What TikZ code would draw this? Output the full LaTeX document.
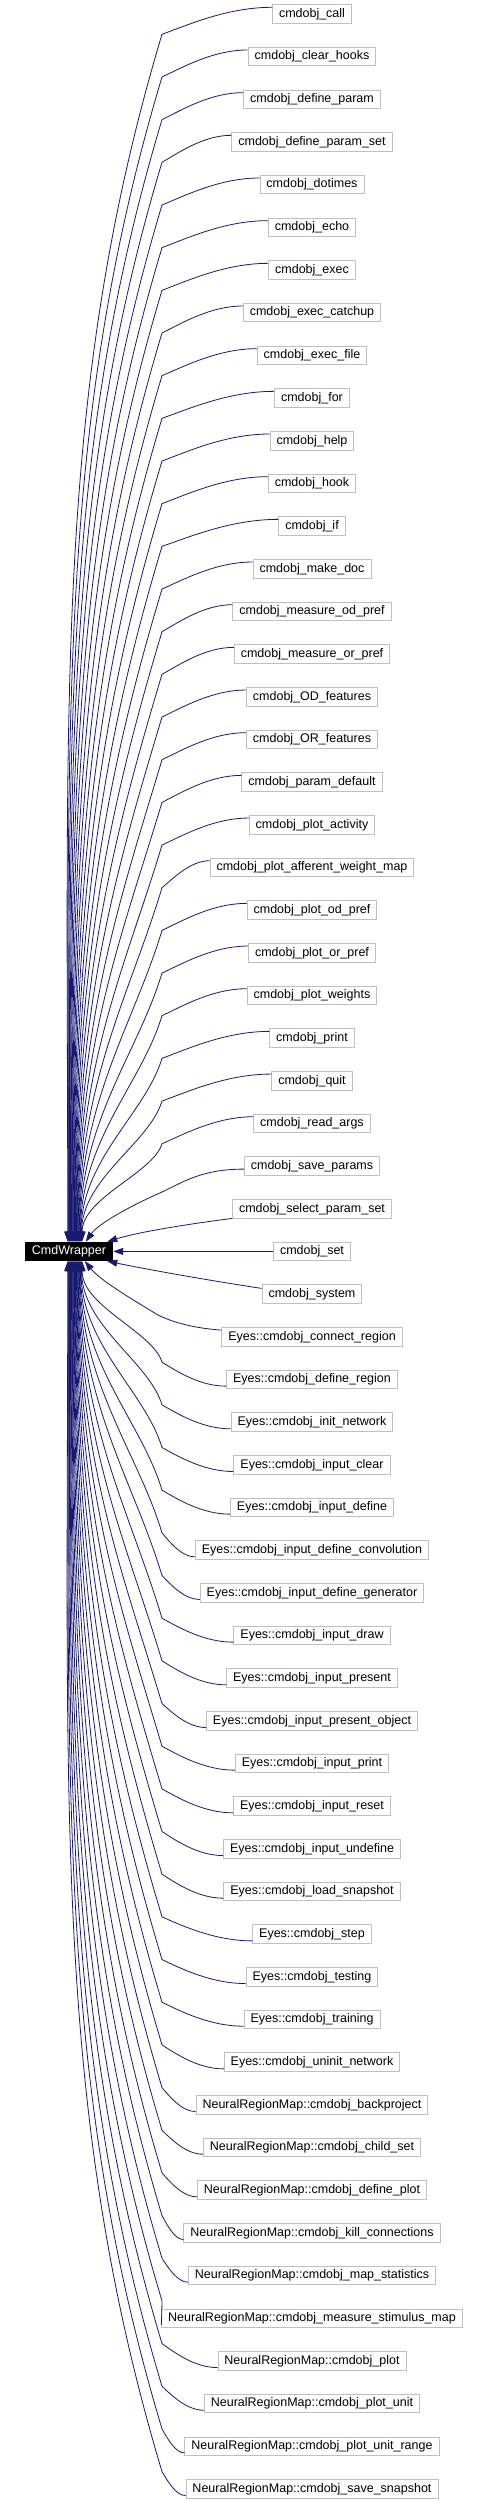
\documentclass[tikz,border=0pt]{standalone}
\usepackage{fontspec}
\setmainfont{Liberation Sans}
\usetikzlibrary{arrows.meta,calc,positioning}
\definecolor{boxgray}{RGB}{191,191,191}
\definecolor{edgeblue}{RGB}{25,25,112}
\newcommand{\boxfont}{\fontsize{12.5}{14}\selectfont}

\begin{document}
\begin{tikzpicture}[x=1pt, y=1pt,
    fn/.style={draw=boxgray, line width=0.9pt, fill=white, inner xsep=6.5pt, inner ysep=0pt,
        minimum height=18.5pt, text height=9.2pt, text depth=2.6pt, font=\boxfont},
    root/.style={fill=black, text=white, inner xsep=7pt, inner ysep=0pt,
        minimum height=19pt, text height=9.2pt, text depth=2.6pt, font=\boxfont},
    edge/.style={draw=edgeblue, line width=0.8pt, -{Triangle[length=10pt,width=7pt]}}]

    \useasboundingbox (0,0) rectangle (486,-2501);

    \node[root] (cw) at (69,-1251.4) {CmdWrapper};

    % callers, one row each
    \foreach \lbl [count=\i] in {cmdobj\_call, cmdobj\_clear\_hooks, cmdobj\_define\_param,
        cmdobj\_define\_param\_set, cmdobj\_dotimes, cmdobj\_echo, cmdobj\_exec,
        cmdobj\_exec\_catchup, cmdobj\_exec\_file, cmdobj\_for, cmdobj\_help, cmdobj\_hook,
        cmdobj\_if, cmdobj\_make\_doc, cmdobj\_measure\_od\_pref, cmdobj\_measure\_or\_pref,
        cmdobj\_OD\_features, cmdobj\_OR\_features, cmdobj\_param\_default,
        cmdobj\_plot\_activity, cmdobj\_plot\_afferent\_weight\_map, cmdobj\_plot\_od\_pref,
        cmdobj\_plot\_or\_pref, cmdobj\_plot\_weights, cmdobj\_print, cmdobj\_quit,
        cmdobj\_read\_args, cmdobj\_save\_params, cmdobj\_select\_param\_set, cmdobj\_set,
        cmdobj\_system, Eyes::cmdobj\_connect\_region, Eyes::cmdobj\_define\_region,
        Eyes::cmdobj\_init\_network, Eyes::cmdobj\_input\_clear, Eyes::cmdobj\_input\_define,
        Eyes::cmdobj\_input\_define\_convolution, Eyes::cmdobj\_input\_define\_generator,
        Eyes::cmdobj\_input\_draw, Eyes::cmdobj\_input\_present,
        Eyes::cmdobj\_input\_present\_object, Eyes::cmdobj\_input\_print,
        Eyes::cmdobj\_input\_reset, Eyes::cmdobj\_input\_undefine,
        Eyes::cmdobj\_load\_snapshot, Eyes::cmdobj\_step, Eyes::cmdobj\_testing,
        Eyes::cmdobj\_training, Eyes::cmdobj\_uninit\_network,
        NeuralRegionMap::cmdobj\_backproject, NeuralRegionMap::cmdobj\_child\_set,
        NeuralRegionMap::cmdobj\_define\_plot, NeuralRegionMap::cmdobj\_kill\_connections,
        NeuralRegionMap::cmdobj\_map\_statistics,
        NeuralRegionMap::cmdobj\_measure\_stimulus\_map, NeuralRegionMap::cmdobj\_plot,
        NeuralRegionMap::cmdobj\_plot\_unit, NeuralRegionMap::cmdobj\_plot\_unit\_range,
        NeuralRegionMap::cmdobj\_save\_snapshot}
        \node[fn] (f\i) at (312, {-14-(\i-1)*42.67}) {\lbl};

    % upper callers come down onto the top of the box
    \foreach \i in {1,...,27} {
        \pgfmathsetmacro\tx{43+(\i-1)*0.55}
        \draw[edge] let \p1 = ([yshift=-3pt]f\i.north west),
                        \p2 = ([xshift=\tx pt]cw.north west),
                        \n1 = {\x1-162}, \n2 = {\y1-27-\y2} in
            (\p1) .. controls ({\x1-0.4*\n1}, \y1) and ({162+0.25*\n1}, {\y1-17}) .. (162, {\y1-27})
                  .. controls ({162-0.09*\n2}, {\y1-27-0.3*\n2}) and (\x2, {\y2+0.45*\n2}) .. (\p2);
    }
    % lower callers come up onto the bottom
    \foreach \i in {33,...,59} {
        \pgfmathsetmacro\tx{43+(59-\i)*0.55}
        \draw[edge] let \p1 = ([yshift=3pt]f\i.south west),
                        \p2 = ([xshift=\tx pt]cw.south west),
                        \n1 = {\x1-162}, \n2 = {\y2-\y1-24} in
            (\p1) .. controls ({\x1-0.4*\n1}, \y1) and ({162+0.25*\n1}, {\y1+14}) .. (162, {\y1+24})
                  .. controls ({162-0.09*\n2}, {\y1+24+0.3*\n2}) and (\x2, {\y2-0.45*\n2}) .. (\p2);
    }

    % the ones next to CmdWrapper
    \draw[edge] ([yshift=-3pt]f28.west) .. controls (200,-1169) and (180,-1184) .. (162,-1192)
        .. controls (130,-1206) and (98,-1224) .. ([xshift=61pt]cw.north west);
    \draw[edge] (f29.south west) .. controls (180,-1225) and (135,-1233) .. ([xshift=-6pt]cw.north east);
    \draw[edge] (f30) -- (cw);
    \draw[edge] ([yshift=-4pt]f31.north west) .. controls (200,-1279) and (140,-1268) .. ([xshift=-6pt]cw.south east);
    \draw[edge] ([yshift=-3pt]f32.north west) .. controls (190,-1328) and (165,-1320) .. (153,-1312)
        .. controls (130,-1298) and (100,-1280) .. ([xshift=60pt]cw.south west);
\end{tikzpicture}
\end{document}
